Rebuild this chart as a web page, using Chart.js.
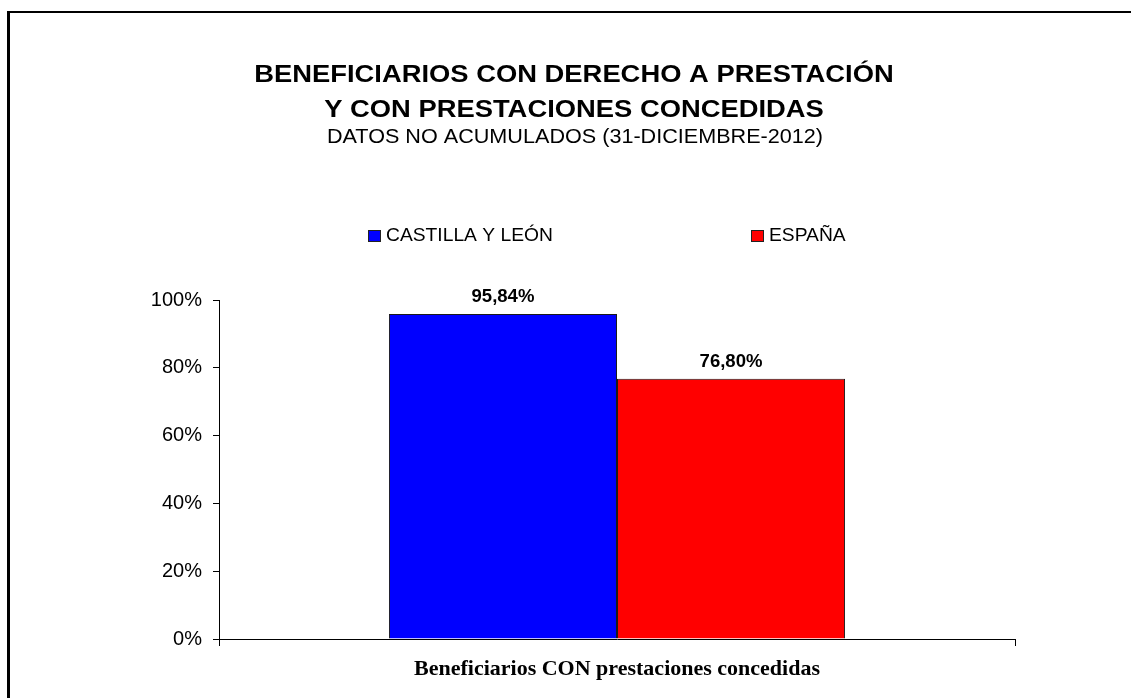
<!DOCTYPE html>
<html lang="es">
<head>
  <meta charset="UTF-8" />
  <title>Beneficiarios con derecho a prestación</title>
  <script src="https://cdn.jsdelivr.net/npm/chart.js"></script>
  <style>
    html, body { margin: 0; padding: 0; background: #fff; overflow: hidden; }
    canvas { display: block; }
  </style>
</head>
<body>
  <canvas id="chart" width="1131" height="698"></canvas>

  <script>
    // data
    const categories = ["Beneficiarios CON prestaciones concedidas"];
    const seriesNames = ["CASTILLA Y LEÓN", "ESPAÑA"];
    const castillaValues = [95.84];
    const espanaValues = [76.80];
    const seriesColors = ["#0000ff", "#ff0000"];
    const yTicks = [0, 20, 40, 60, 80, 100];

    const titleLines = ["BENEFICIARIOS CON DERECHO A PRESTACIÓN", "Y CON PRESTACIONES CONCEDIDAS"];
    const subtitle = "DATOS NO ACUMULADOS (31-DICIEMBRE-2012)";

    // stretched text helper (source picture is a bit wider than tall)
    function drawText(ctx, text, x, y, font, sx, align) {
      ctx.save();
      ctx.font = font;
      ctx.textAlign = align || "center";
      ctx.textBaseline = "alphabetic";
      ctx.fillStyle = "#000";
      ctx.translate(x, y);
      ctx.scale(sx, 1);
      ctx.fillText(text, 0, 0);
      ctx.restore();
    }

    const decorations = {
      id: "decorations",
      beforeDraw(chart) {
        const ctx = chart.ctx;
        ctx.save();
        ctx.fillStyle = "#fff";
        ctx.fillRect(0, 0, chart.width, chart.height);
        // outer frame (only top and left show)
        ctx.fillStyle = "#000";
        ctx.fillRect(7, 11, chart.width, 2);
        ctx.fillRect(7, 11, 3, chart.height);
        ctx.restore();

        drawText(ctx, titleLines[0], 574, 82, "bold 24px 'Liberation Sans', Arial", 1.14);
        drawText(ctx, titleLines[1], 574, 117, "bold 24px 'Liberation Sans', Arial", 1.14);
        drawText(ctx, subtitle, 575, 143, "20px 'Liberation Sans', Arial", 1.08);

        // legend
        const legendX = [368, 751];
        chart.data.datasets.forEach((ds, i) => {
          ctx.save();
          ctx.fillStyle = ds.backgroundColor;
          ctx.strokeStyle = "#222";
          ctx.lineWidth = 1;
          ctx.fillRect(legendX[i], 230, 12, 11);
          ctx.strokeRect(legendX[i] + 0.5, 230.5, 12, 11);
          ctx.restore();
          drawText(ctx, ds.label, legendX[i] + 18, 241, "17.5px 'Liberation Sans', Arial", 1.1, "left");
        });
      },
      afterDatasetsDraw(chart) {
        const ctx = chart.ctx;
        chart.data.datasets.forEach((ds, i) => {
          chart.getDatasetMeta(i).data.forEach((bar, j) => {
            const txt = ds.data[j].toFixed(2).replace(".", ",") + "%";
            drawText(ctx, txt, bar.x, bar.y - 12, "bold 18px 'Liberation Sans', Arial", 1.03);
          });
        });
      }
    };

    new Chart(document.getElementById("chart"), {
      type: "bar",
      data: {
        labels: categories,
        datasets: [
          {
            label: seriesNames[0],
            data: castillaValues,
            backgroundColor: seriesColors[0],
            borderColor: "#1a1a1a",
            borderWidth: 1
          },
          {
            label: seriesNames[1],
            data: espanaValues,
            backgroundColor: seriesColors[1],
            borderColor: "#1a1a1a",
            borderWidth: 1
          }
        ]
      },
      options: {
        responsive: false,
        animation: false,
        categoryPercentage: 0.573,
        barPercentage: 1,
        layout: {
          padding: { left: 0, top: 300, right: 116, bottom: 0 }
        },
        plugins: {
          legend: { display: false },
          title: { display: false },
          tooltip: { enabled: false }
        },
        scales: {
          x: {
            offset: true,
            afterFit: (s) => { s.height = 59; },
            grid: {
              offset: true,
              drawOnChartArea: false,
              drawTicks: true,
              tickLength: 7,
              color: "#000"
            },
            border: { display: true, color: "#000", width: 1 },
            ticks: {
              color: "#000",
              padding: 10,
              font: { family: "'Liberation Serif', 'Times New Roman'", size: 22, weight: "bold" }
            }
          },
          y: {
            min: yTicks[0],
            max: yTicks[yTicks.length - 1],
            afterFit: (s) => { s.width = 219; },
            afterBuildTicks: (s) => { s.ticks = yTicks.map(v => ({ value: v })); },
            grid: {
              drawOnChartArea: false,
              drawTicks: true,
              tickLength: 6,
              color: "#000"
            },
            border: { display: true, color: "#000", width: 1 },
            ticks: {
              color: "#000",
              padding: 11,
              font: { family: "'Liberation Sans', Arial", size: 20 },
              callback: (v) => v + "%"
            }
          }
        }
      },
      plugins: [decorations]
    });
  </script>
</body>
</html>
